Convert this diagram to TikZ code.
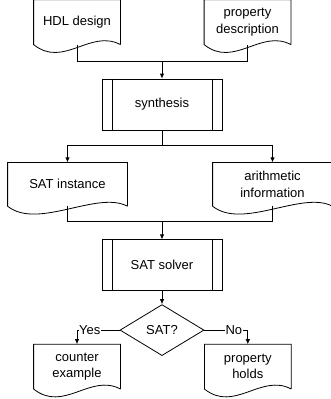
\documentclass[tikz,border=0pt]{standalone}
\usepackage{fontspec}
\setmainfont{Liberation Sans}
\usetikzlibrary{arrows.meta,positioning,shapes.geometric}

\begin{document}
\begin{tikzpicture}[
		font=\fontsize{13pt}{16.5pt}\selectfont,
		line width=0.8pt,
		doc/.style={inner sep=0pt, minimum width=86pt, minimum height=44pt, align=center,
			append after command={\pgfextra{\draw (\tikzlastnode.south east) -- (\tikzlastnode.north east) -- (\tikzlastnode.north west) -- (\tikzlastnode.south west) .. controls +(30pt,-24pt) and +(-30pt,16pt) .. (\tikzlastnode.south east);}}},
		wide doc/.style={doc, minimum width=119pt, minimum height=43pt},
		proc/.style={draw, minimum width=120pt, minimum height=51pt,
			append after command={\pgfextra{\draw ([xshift=11pt]\tikzlastnode.north west) -- ([xshift=11pt]\tikzlastnode.south west) ([xshift=-10pt]\tikzlastnode.north east) -- ([xshift=-10pt]\tikzlastnode.south east);}}},
		decision/.style={draw, diamond, aspect=1.65, inner sep=0pt, minimum width=84pt, minimum height=51pt},
		arr/.style={-{Latex[length=5pt,width=4.5pt]}},
		answer/.style={fill=white, inner sep=0.5pt},
	]
		\useasboundingbox (0,0) rectangle (331pt,-399pt);
		\node (synth) [proc] at (162pt,-104.5pt) {synthesis};
		\node (hdl) [doc, above=34pt of synth, xshift=-85pt] {HDL design};
		\node (prop) [doc, above=34pt of synth, xshift=85.5pt] {property\\description};
		\node (inst) [wide doc, below=32pt of synth, xshift=-94.5pt] {SAT instance};
		\node (arith) [wide doc, below=32pt of synth, xshift=110.5pt] {arithmetic\\information};
		\node (solver) [proc, below=109pt of synth] {SAT solver};
		\node (sat) [decision, below=13pt of solver] {SAT?};
		\node (counter) [doc, below=53pt of solver, xshift=-85pt] {counter\\example};
		\node (holds) [doc, right=84pt of counter] {property\\holds};

		\coordinate [above=17pt of synth] (join1);
		\coordinate [below=15pt of synth] (split);
		\coordinate [above=18pt of solver] (join2);

		\draw (hdl.south) |- (join1) -| (prop.south);
		\draw[arr] (join1) -- (synth);
		\draw (synth) -- (split);
		\draw[arr] (split) -| (inst.north);
		\draw[arr] (split) -| (arith.north);
		\draw (inst.south) |- (join2) -| (arith.south);
		\draw[arr] (join2) -- (solver);
		\draw[arr] (solver) -- (sat);
		\draw[arr] (sat.west) -| (counter.north) node[answer, pos=0.35] {Yes};
		\draw[arr] (sat.east) -| (holds.north) node[answer, pos=0.34] {No};
	\end{tikzpicture}
\end{document}
